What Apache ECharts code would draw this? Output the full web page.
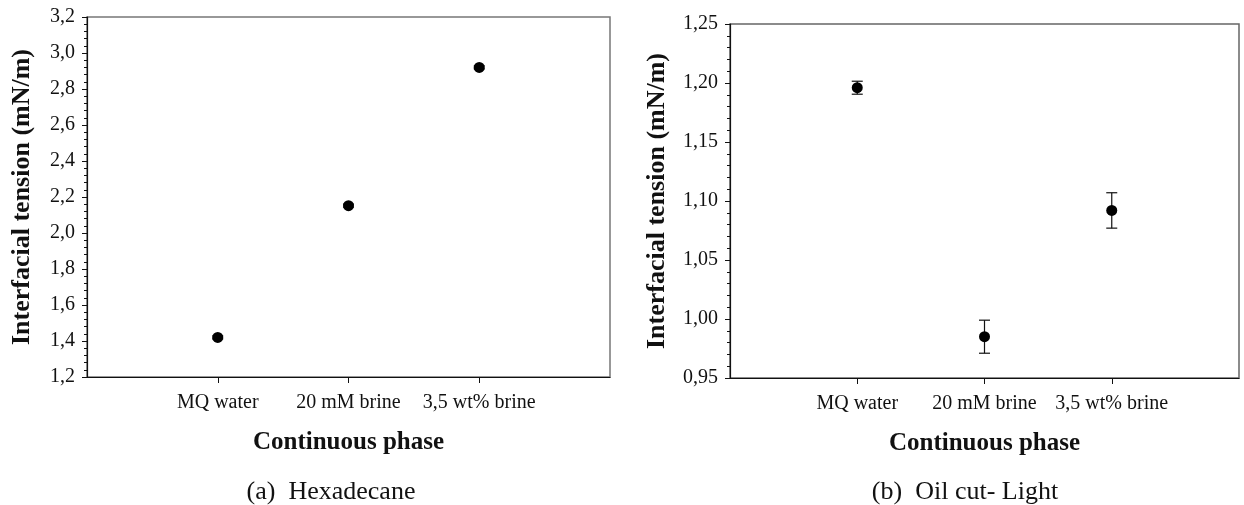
<!DOCTYPE html>
<html>
<head>
<meta charset="utf-8">
<script src="https://cdn.jsdelivr.net/npm/echarts@6/dist/echarts.min.js"></script>
<style>html,body{margin:0;padding:0;background:#fff}#c{width:1244px;height:505px}</style>
</head>
<body>
<div id="c"></div>
<script>
const categories = ['MQ water', '20 mM brine', '3,5 wt% brine'];
const categoryPositions = [1, 2, 3];
const hexValues = [1.42, 2.152, 2.92];
const hexErrors = [0.008, 0.008, 0.008];
const oilValues = [1.196, 0.985, 1.092];
const oilErrors = [0.0055, 0.014, 0.015];
const captions = ['(a)  Hexadecane', '(b)  Oil cut- Light'];
const xTitle = 'Continuous phase';
const yTitle = 'Interfacial tension (mN/m)';

const FONT = '"Liberation Serif", "DejaVu Serif", serif';
const chart = echarts.init(document.getElementById('c'));

function xAxisCfg(gi) {
  return {
    gridIndex: gi, type: 'value', min: 0, max: 4, interval: 1,
    axisLine: { show: true, lineStyle: { color: '#111', width: 1.2 } },
    axisTick: { show: true, inside: false, length: 6, customValues: categoryPositions, lineStyle: { color: '#111' } },
    axisLabel: { show: true, customValues: categoryPositions, margin: 16,
      formatter: v => categories[categoryPositions.indexOf(v)] || '',
      fontFamily: FONT, fontSize: 20, color: '#111' },
    splitLine: { show: false },
    name: xTitle, nameLocation: 'middle', nameGap: 53,
    nameTextStyle: { fontFamily: FONT, fontSize: 25, fontWeight: 'bold', color: '#111' }
  };
}
function yAxisCfg(gi, min, max, interval, digits, gap) {
  return {
    gridIndex: gi, type: 'value', min: min, max: max, interval: interval,
    axisLine: { show: true, lineStyle: { color: '#111', width: 1.2 } },
    axisTick: { show: true, inside: false, length: 5, lineStyle: { color: '#111' } },
    minorTick: { show: true, splitNumber: 5, length: 3, lineStyle: { color: '#111' } },
    axisLabel: { margin: 12, fontFamily: FONT, fontSize: 20, color: '#111',
      formatter: v => v.toFixed(digits).replace('.', ',') },
    splitLine: { show: false },
    name: yTitle, nameLocation: 'middle', nameGap: gap, nameRotate: 90,
    nameTextStyle: { fontFamily: FONT, fontSize: 26, fontWeight: 'bold', color: '#111' }
  };
}
function errorSeries(gi, vals, errs) {
  return {
    type: 'custom', xAxisIndex: gi, yAxisIndex: gi, z: 3,
    data: vals.map((v, i) => [categoryPositions[i], v - errs[i], v + errs[i]]),
    renderItem: function (params, api) {
      const x = api.value(0);
      const lo = api.coord([x, api.value(1)]);
      const hi = api.coord([x, api.value(2)]);
      const w = 5.5;
      const st = { stroke: '#111', lineWidth: 1.2 };
      return { type: 'group', children: [
        { type: 'line', shape: { x1: lo[0], y1: lo[1], x2: hi[0], y2: hi[1] }, style: st },
        { type: 'line', shape: { x1: lo[0] - w, y1: lo[1], x2: lo[0] + w, y2: lo[1] }, style: st },
        { type: 'line', shape: { x1: hi[0] - w, y1: hi[1], x2: hi[0] + w, y2: hi[1] }, style: st }
      ] };
    }
  };
}
function pointSeries(gi, vals) {
  return {
    type: 'scatter', xAxisIndex: gi, yAxisIndex: gi, z: 4,
    symbol: 'circle', symbolSize: 11, itemStyle: { color: '#000', opacity: 1 },
    data: vals.map((v, i) => [categoryPositions[i], v])
  };
}

chart.setOption({
  animation: false,
  backgroundColor: '#fff',
  grid: [
    { left: 87, right: 1244 - 610, top: 17, bottom: 505 - 377, show: true, borderColor: '#777', borderWidth: 1.5, containLabel: false },
    { left: 730, right: 1244 - 1239, top: 24, bottom: 505 - 378, show: true, borderColor: '#666', borderWidth: 1.5, containLabel: false }
  ],
  title: [
    { text: captions[0], left: 326, top: 474, textAlign: 'center',
      textStyle: { fontFamily: FONT, fontSize: 26, fontWeight: 'normal', color: '#111' } },
    { text: captions[1], left: 960, top: 474, textAlign: 'center',
      textStyle: { fontFamily: FONT, fontSize: 26, fontWeight: 'normal', color: '#111' } }
  ],
  xAxis: [xAxisCfg(0), xAxisCfg(1)],
  yAxis: [yAxisCfg(0, 1.2, 3.2, 0.2, 1, 52), yAxisCfg(1, 0.95, 1.25, 0.05, 2, 60)],
  series: [
    errorSeries(0, hexValues, hexErrors), pointSeries(0, hexValues),
    errorSeries(1, oilValues, oilErrors), pointSeries(1, oilValues)
  ]
});
</script>
</body>
</html>
